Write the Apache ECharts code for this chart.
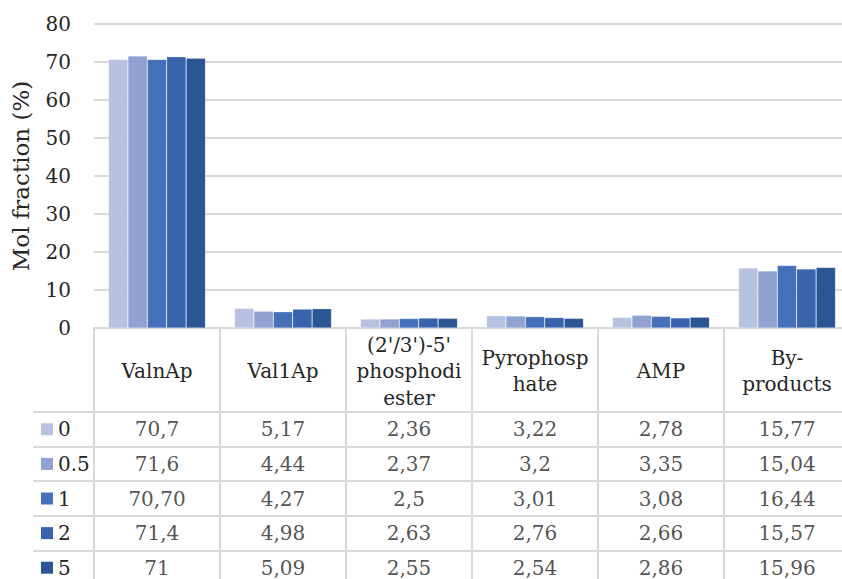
<!DOCTYPE html>
<html><head><meta charset="utf-8">
<script src="https://cdn.jsdelivr.net/npm/echarts@6/dist/echarts.min.js"></script>
<style>html,body{margin:0;padding:0;background:#fff}#c{width:842px;height:579px}</style>
</head><body><div id="c"></div>
<script>
// ---- data ----
const categories = ["ValnAp", "Val1Ap", "(2'/3')-5'\nphosphodi\nester", "Pyrophosp\nhate", "AMP", "By-\nproducts"];
const seriesNames = ["0", "0.5", "1", "2", "5"];
const s0  = ["70,7",  "5,17", "2,36", "3,22", "2,78", "15,77"];
const s05 = ["71,6",  "4,44", "2,37", "3,2",  "3,35", "15,04"];
const s1  = ["70,70", "4,27", "2,5",  "3,01", "3,08", "16,44"];
const s2  = ["71,4",  "4,98", "2,63", "2,76", "2,66", "15,57"];
const s5  = ["71",    "5,09", "2,55", "2,54", "2,86", "15,96"];
const yMin = 0, yMax = 80, yStep = 10;
const yAxisTitle = "Mol fraction (%)";

// ---- styling ----
const colors = ["#b7c2e1", "#8fa2d2", "#4671ba", "#3964ad", "#2c5594"];
const FONT = "'DejaVu Serif', 'Liberation Serif', serif";
const FS = 20;
const TXT = "#262626";
const LINE = "#d9d9d9";

const allSeries = [s0, s05, s1, s2, s5];
const toNum = s => parseFloat(s.replace(',', '.'));

const rich = {};
colors.forEach((c, i) => { rich['c' + i] = {backgroundColor: c, width: 12, height: 12}; });
rich.t = {fontFamily: FONT, fontSize: FS, color: TXT, padding: [0, 0, 0, 5]};

const barSeries = allSeries.map((arr, i) => ({
  name: seriesNames[i], type: 'bar', xAxisIndex: 0, yAxisIndex: 0,
  data: arr.map(toNum), barGap: '0%', barCategoryGap: '23%',
  itemStyle: {color: colors[i], borderColor: 'rgba(255,255,255,0.35)', borderWidth: 0.6},
  silent: true
}));

const cellData = [];
allSeries.forEach((arr, r) => arr.forEach((s, c) => cellData.push([c, r, s])));

const option = {
  backgroundColor: '#fff',
  animation: false,
  textStyle: {fontFamily: FONT},
  grid: [
    {left: 94, top: 24, width: 756, height: 304, outerBoundsMode: 'none', containLabel: false},
    {left: 94, top: 412, width: 756, height: 173, outerBoundsMode: 'none', containLabel: false}
  ],
  xAxis: [
    {type: 'category', gridIndex: 0, data: categories,
     axisLine: {show: true, lineStyle: {color: LINE, width: 2}},
     axisTick: {show: true, interval: 0, length: 84, lineStyle: {color: LINE, width: 2}},
     axisLabel: {interval: 0, margin: 43, verticalAlign: 'middle', lineHeight: 26.5,
       fontFamily: FONT, fontSize: FS, color: TXT, hideOverlap: false}},
    {type: 'category', gridIndex: 1, data: categories, position: 'top',
     axisLine: {show: true, lineStyle: {color: LINE, width: 2}},
     axisTick: {show: false}, axisLabel: {show: false},
     splitLine: {show: true, interval: 0, lineStyle: {color: LINE, width: 2}}}
  ],
  yAxis: [
    {type: 'value', gridIndex: 0, min: yMin, max: yMax, interval: yStep,
     name: yAxisTitle, nameLocation: 'middle', nameGap: 62,
     nameTextStyle: {fontFamily: FONT, fontSize: 23, color: TXT},
     axisLine: {show: false}, axisTick: {show: false},
     axisLabel: {margin: 23, fontFamily: FONT, fontSize: FS, color: TXT},
     splitLine: {lineStyle: {color: LINE, width: 2}}},
    {type: 'category', gridIndex: 1, data: seriesNames, inverse: true,
     axisLine: {show: true, lineStyle: {color: LINE, width: 2}},
     axisTick: {show: true, interval: 0, length: 61, lineStyle: {color: LINE, width: 2}},
     axisLabel: {interval: 0, margin: 53, align: 'left',
       formatter: (v, i) => '{c' + i + '|}{t|' + v + '}', rich: rich},
     splitLine: {show: true, interval: 0, lineStyle: {color: LINE, width: 2}}},
    {type: 'category', gridIndex: 1, data: seriesNames, inverse: true, offset: 61,
     axisLine: {show: true, lineStyle: {color: LINE, width: 2}},
     axisTick: {show: false}, axisLabel: {show: false}, splitLine: {show: false}}
  ],
  series: barSeries.concat([{
    type: 'scatter', xAxisIndex: 1, yAxisIndex: 1, symbolSize: 0, silent: true,
    data: cellData,
    label: {show: true, position: 'inside', formatter: p => p.data[2],
      fontFamily: FONT, fontSize: FS, color: TXT}
  }])
};

const chart = echarts.init(document.getElementById('c'), null, {renderer: 'svg'});
chart.setOption(option);
</script>
</body></html>
